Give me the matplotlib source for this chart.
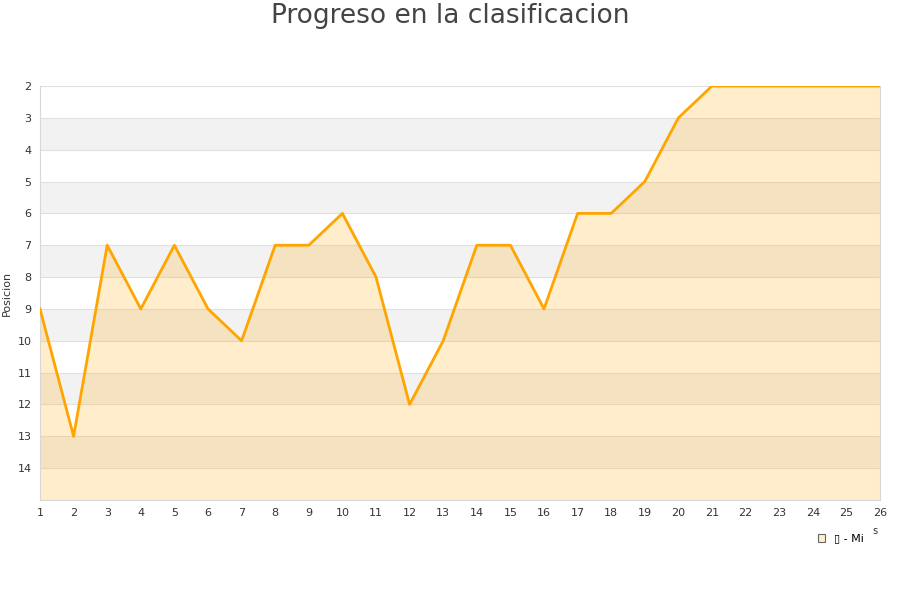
import numpy as np
import matplotlib.pyplot as plt

jornadas = list(range(1, 27))
posicion = [9, 13, 7, 9, 7, 9, 10, 7, 7, 6, 8, 12, 10, 7, 7, 9, 6, 6, 5, 3, 2, 2, 2, 2, 2, 2]
y_ticks = list(range(2, 15))
legend_label = "\u25af - Mi"

fig = plt.figure(figsize=(9, 6), dpi=100)
ax = fig.add_axes([40 / 900, 100 / 600, 840 / 900, 414 / 600])

# alternating bands
for y0 in range(3, 15, 2):
    ax.axhspan(y0, y0 + 1, color="#f2f2f2", zorder=0, lw=0)
for y in range(2, 16):
    ax.axhline(y, color="#e0e0e0", lw=0.8, zorder=1)

ax.fill_between(jornadas, posicion, 15, color="#ffa500", alpha=0.2, lw=0, zorder=2,
                label=legend_label)
ax.plot(jornadas, posicion, color="#ffa500", lw=2, zorder=3)

ax.set_xlim(1, 26)
ax.set_ylim(15, 2)
ax.set_xticks(jornadas)
ax.set_yticks(y_ticks)
ax.tick_params(labelsize=8, colors="#333333", length=0, pad=6)
for s in ["left", "bottom", "right"]:
    ax.spines[s].set_color("#d8d8d8")
ax.spines["top"].set_visible(False)
ax.set_ylabel("Posicion", fontsize=8, color="#333333", labelpad=4)

fig.suptitle("Progreso en la clasificacion", fontsize=19, color="#444444", y=0.995)

leg = ax.legend(loc="upper right", bbox_to_anchor=(0.993, -0.057), frameon=False,
                fontsize=8, handlelength=0.7, handleheight=0.7)
leg.legend_handles[0].set_edgecolor("#666666")
leg.legend_handles[0].set_linewidth(0.8)
leg.legend_handles[0].set_alpha(1)
leg.legend_handles[0].set_facecolor("#ffedcc")
fig.text(875 / 900, 1 - 531 / 600, "s", fontsize=7, color="#333333", ha="center", va="center")

fig.savefig("out.png", dpi=100)
